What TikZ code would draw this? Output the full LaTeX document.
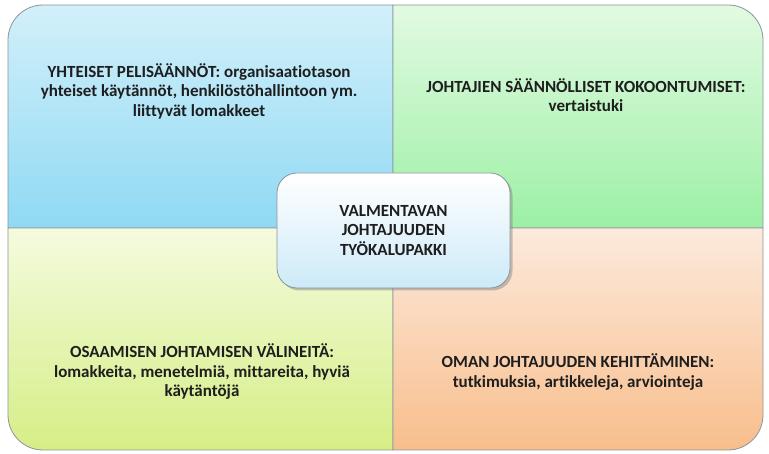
\documentclass[tikz,border=0pt]{standalone}
\usepackage{fontspec}
\setmainfont{Carlito}[Ligatures=CommonOff]
\usetikzlibrary{shadows}
\definecolor{txt}{HTML}{1E1E1E}
\definecolor{edge}{HTML}{8A949C}
\definecolor{blueT}{HTML}{D2F0FA}
\definecolor{blueB}{HTML}{8FD9F4}
\definecolor{greenT}{HTML}{E2FAE2}
\definecolor{greenB}{HTML}{9CF0A4}
\definecolor{yelT}{HTML}{F4FBDE}
\definecolor{yelB}{HTML}{D6EE86}
\definecolor{orT}{HTML}{FCEADC}
\definecolor{orB}{HTML}{F8BE8C}
\definecolor{ctrB}{HTML}{CDEAF8}
\tikzset{
  quad/.style={draw=edge, line width=0.8pt},
  lbl/.style={text=txt, align=center, font=\fontsize{17}{19.5}\selectfont\bfseries, inner sep=0pt},
  ctr/.style={draw=edge, line width=0.8pt, rounded corners=20pt, top color=white, bottom color=ctrB,
              minimum width=233pt, minimum height=115pt, inner sep=0pt,
              drop shadow={shadow xshift=2.5pt, shadow yshift=-2.5pt, opacity=0.45}}
}
\begin{document}
\begin{tikzpicture}[x=1pt,y=1pt]
\useasboundingbox (0,0) rectangle (769,454);
\path[quad, top color=blueT, bottom color=blueB]
  (8,226) -- (8,414) arc[start angle=180,end angle=90,radius=35] -- (393,449) -- (393,226) -- cycle;
\path[quad, top color=greenT, bottom color=greenB]
  (393,226) -- (393,449) -- (728,449) arc[start angle=90,end angle=0,radius=35] -- (763,226) -- cycle;
\path[quad, top color=yelT, bottom color=yelB]
  (8,226) -- (8,39) arc[start angle=180,end angle=270,radius=35] -- (393,4) -- (393,226) -- cycle;
\path[quad, top color=orT, bottom color=orB]
  (393,226) -- (393,4) -- (728,4) arc[start angle=270,end angle=360,radius=35] -- (763,226) -- cycle;

\node[lbl] (tl) at (199,363) {YHTEISET PELISÄÄNNÖT: organisaatiotason\\yhteiset käytännöt, henkilöstöhallintoon ym.\\liittyvät lomakkeet};
\node[lbl] (tr) at (586,359) {JOHTAJIEN SÄÄNNÖLLISET KOKOONTUMISET:\\vertaistuki};
\node[lbl] (bl) at (202,82) {OSAAMISEN JOHTAMISEN VÄLINEITÄ:\\lomakkeita, menetelmiä, mittareita, hyviä\\käytäntöjä};
\node[lbl] (br) at (578,82) {OMAN JOHTAJUUDEN KEHITTÄMINEN:\\tutkimuksia, artikkeleja, arviointeja};

\node[ctr] (box) at (393.5,223.5) {};
\node[lbl] (ct) at (box) {VALMENTAVAN\\JOHTAJUUDEN\\TYÖKALUPAKKI};
\end{tikzpicture}
\end{document}
